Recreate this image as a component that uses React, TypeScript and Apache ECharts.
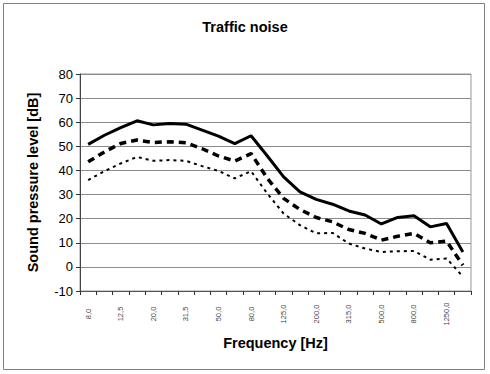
import React, { useEffect, useRef } from 'react';
import * as echarts from 'echarts';

const frequencies = ['8,0', '10,0', '12,5', '16,0', '20,0', '25,0', '31,5', '40,0', '50,0', '63,0', '80,0', '100,0', '125,0', '160,0', '200,0', '250,0', '315,0', '400,0', '500,0', '630,0', '800,0', '1000,0', '1250,0', '1600,0'];
const upperLevels = [50.8, 54.6, 57.8, 60.6, 58.9, 59.5, 59.2, 56.7, 54.2, 51.1, 54.4, 46, 37.3, 31.1, 28, 26, 23.2, 21.5, 17.8, 20.5, 21.2, 16.6, 18, 6.2];
const middleLevels = [43.6, 47.7, 51.2, 52.6, 51.6, 51.9, 51.5, 49, 46, 43.9, 47, 36.7, 28.4, 23.8, 20.5, 18.7, 15.5, 13.9, 11.1, 12.7, 13.9, 10, 10.7, 0.7];
const lowerLevels = [36, 39.7, 42.9, 45.6, 44, 44.3, 44, 41.8, 39.8, 36.7, 39.7, 30.4, 22.1, 17.3, 13.9, 14.1, 9.7, 7.6, 6.2, 6.5, 6.6, 3, 3.5, -4];

const FONT = '"Liberation Sans", Arial, sans-serif';

export default function App() {
  const ref = useRef<HTMLDivElement>(null);
  useEffect(() => {
    if (!ref.current) return;
    const chart = echarts.init(ref.current, undefined, { renderer: 'svg' });
    chart.setOption({
      animation: false,
      backgroundColor: '#ffffff',
      textStyle: { fontFamily: FONT },
      title: {
        text: 'Traffic noise',
        left: 'center',
        top: 14,
        textStyle: { fontFamily: FONT, fontSize: 14.5, fontWeight: 'bold', color: '#000' },
      },
      graphic: [
        {
          type: 'rect',
          shape: { x: 3.5, y: 3.5, width: 481, height: 366 },
          style: { fill: 'none', stroke: '#808080', lineWidth: 1 },
          silent: true,
        },
      ],
      grid: {
        left: 80,
        right: 19,
        top: 74,
        bottom: 83,
        show: true,
        borderColor: '#999',
        borderWidth: 1,
      },
      xAxis: {
        type: 'category',
        data: frequencies,
        boundaryGap: true,
        name: 'Frequency [Hz]',
        nameLocation: 'middle',
        nameGap: 44,
        nameTextStyle: { fontFamily: FONT, fontSize: 14.5, fontWeight: 'bold', color: '#000' },
        axisLine: { show: true, onZero: false, lineStyle: { color: '#555', width: 1 } },
        axisTick: { show: true, interval: 0, length: 4, lineStyle: { color: '#333' } },
        axisLabel: {
          interval: 1,
          rotate: 90,
          margin: 23,
          align: 'center',
          verticalAlign: 'middle',
          fontSize: 7.5,
          color: '#444',
          fontFamily: FONT,
        },
        splitLine: { show: false },
      },
      yAxis: {
        type: 'value',
        min: -10,
        max: 80,
        interval: 10,
        name: 'Sound pressure level [dB]',
        nameLocation: 'middle',
        nameGap: 40,
        nameTextStyle: { fontFamily: FONT, fontSize: 14.5, fontWeight: 'bold', color: '#000' },
        axisLine: { show: true, lineStyle: { color: '#444', width: 1 } },
        axisTick: { show: true, length: 4, lineStyle: { color: '#333' } },
        axisLabel: { fontSize: 13, color: '#000', margin: 7, fontFamily: FONT },
        splitLine: { show: true, lineStyle: { color: '#8c8c8c', width: 1 } },
      },
      series: [
        {
          type: 'line',
          data: upperLevels,
          symbol: 'none',
          lineStyle: { color: '#000', width: 3, type: 'solid' },
        },
        {
          type: 'line',
          data: middleLevels,
          symbol: 'none',
          lineStyle: { color: '#000', width: 3.5, type: [7, 5] },
        },
        {
          type: 'line',
          data: lowerLevels,
          symbol: 'none',
          lineStyle: { color: '#000', width: 2, type: [3, 4] },
        },
      ],
    });
    return () => chart.dispose();
  }, []);
  return (
    <div
      ref={ref}
      style={{ position: 'fixed', left: 0, top: 0, width: 490, height: 374, background: '#fff' }}
    />
  );
}
